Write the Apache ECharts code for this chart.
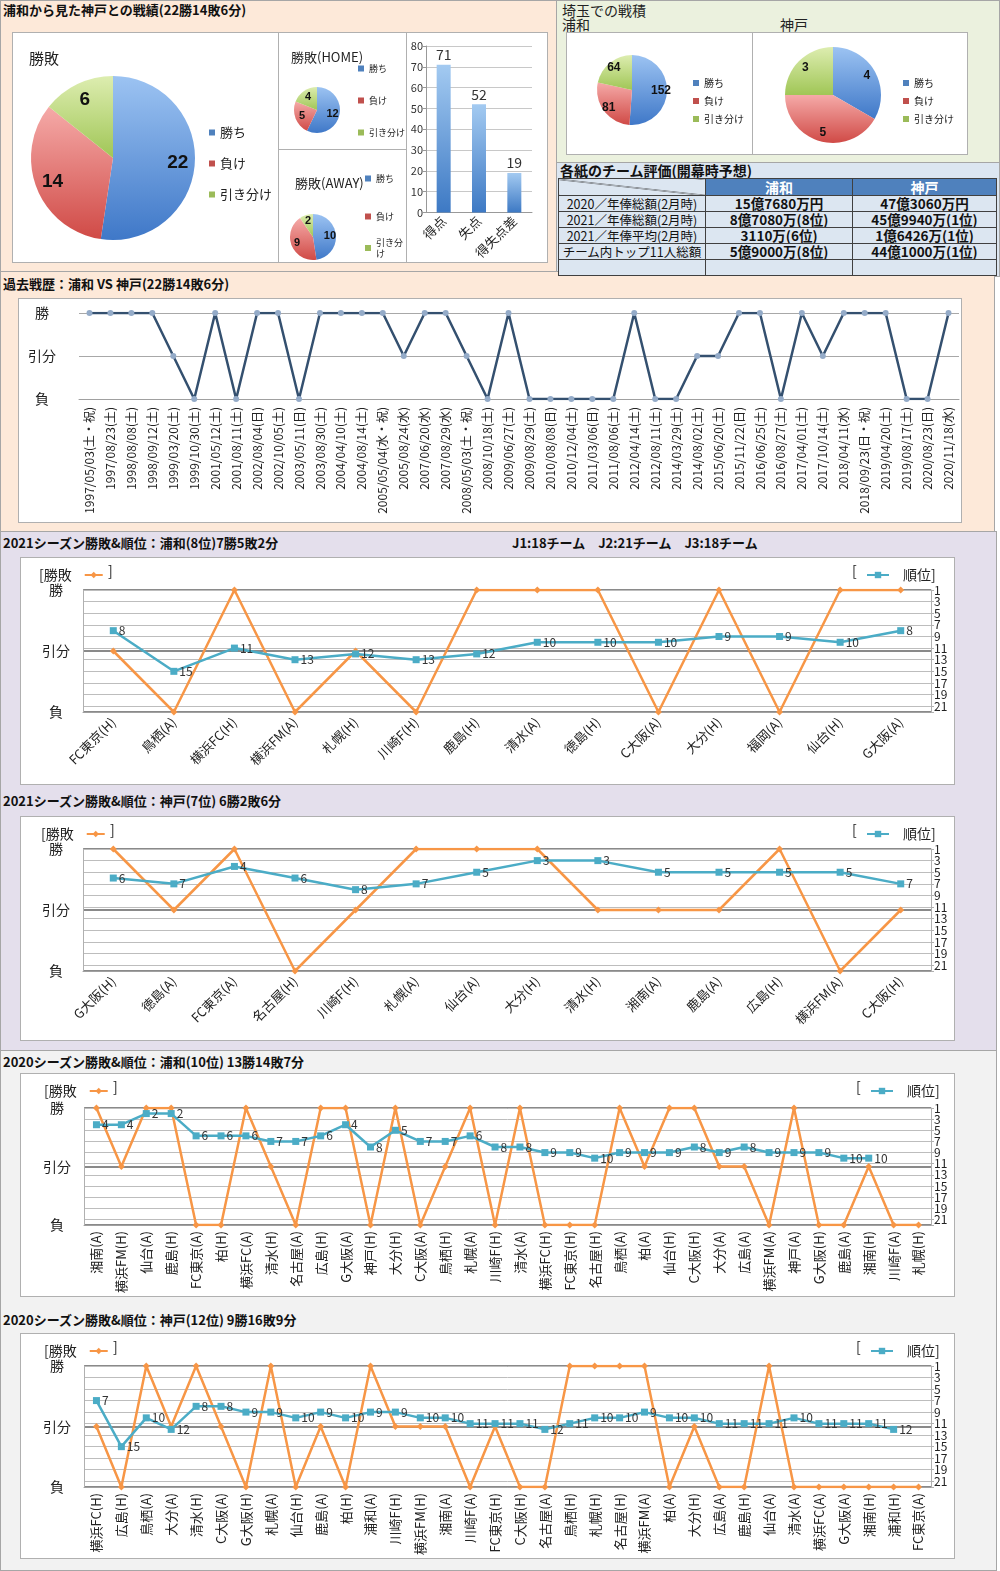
<!DOCTYPE html>
<html><head><meta charset="utf-8">
<script src="https://cdn.jsdelivr.net/npm/echarts@6/dist/echarts.min.js"></script>
<style>
body{margin:0;background:#fff;font-family:"Noto Sans CJK JP","Noto Sans",sans-serif;}
#page{position:relative;width:1000px;height:1571px;overflow:hidden;background:#fff;}
.sec{position:absolute;box-sizing:border-box;border:1px solid #a6a6a6;}
.t{position:absolute;font-size:13px;font-weight:bold;color:#111;white-space:nowrap;line-height:16px;}
.n{position:absolute;font-size:14px;color:#222;white-space:nowrap;line-height:16px;}
.box{position:absolute;box-sizing:border-box;border:1px solid #b0b0b0;background:#fff;}
#tbl{position:absolute;left:558px;top:178px;border-collapse:collapse;table-layout:fixed;}
#tbl td{border:1px solid #404040;padding:0;text-align:center;font-size:12.5px;line-height:15px;white-space:nowrap;overflow:hidden;background:#DCE6F1;color:#111;}
#tbl tr.h td{height:16px;background:#4F81BD;color:#fff;font-weight:bold;font-size:14px;}
#tbl tr.b td{height:15px;}
#tbl td.v{font-weight:bold;font-size:13.5px;}
</style></head>
<body><div id="page">
<div class="sec" style="left:0;top:0;width:557px;height:272px;background:#FDE9D9"></div>
<div class="sec" style="left:556px;top:0;width:444px;height:163px;background:#EBF1DE"></div>
<div class="sec" style="left:556px;top:162px;width:444px;height:115px;background:#DCE6F1"></div>
<div class="sec" style="left:0;top:271px;width:995px;height:261px;background:#FDE9D9"></div>
<div class="sec" style="left:0;top:531px;width:997px;height:520px;background:#E4DFEC"></div>
<div class="sec" style="left:0;top:1050px;width:997px;height:521px;background:#F2F2F2"></div>

<div class="t" style="left:3px;top:2px;">浦和から見た神戸との戦績(22勝14敗6分)</div>
<div class="n" style="left:562px;top:2px;">埼玉での戦積</div>
<div class="n" style="left:562px;top:16px;">浦和</div>
<div class="n" style="left:780px;top:16px;">神戸</div>
<div class="t" style="left:560px;top:162px;font-size:14px;">各紙のチーム評価(開幕時予想)</div>
<div class="t" style="left:3px;top:276px;">過去戦歴：浦和 VS 神戸(22勝14敗6分)</div>
<div class="t" style="left:3px;top:535px;">2021シーズン勝敗&amp;順位：浦和(8位)7勝5敗2分</div>
<div class="t" style="left:512px;top:535px;">J1:18チーム　J2:21チーム　J3:18チーム</div>
<div class="t" style="left:3px;top:793px;">2021シーズン勝敗&amp;順位：神戸(7位) 6勝2敗6分</div>
<div class="t" style="left:3px;top:1054px;">2020シーズン勝敗&amp;順位：浦和(10位) 13勝14敗7分</div>
<div class="t" style="left:3px;top:1312px;">2020シーズン勝敗&amp;順位：神戸(12位) 9勝16敗9分</div>

<div class="box" id="cMain" style="left:12px;top:32px;width:267px;height:231px;"></div>
<div class="box" id="cHome" style="left:278px;top:32px;width:129px;height:118px;"></div>
<div class="box" id="cAway" style="left:278px;top:149px;width:129px;height:114px;"></div>
<div class="box" id="cBar" style="left:406px;top:32px;width:142px;height:231px;"></div>
<div class="box" id="cSU" style="left:566px;top:32px;width:187px;height:123px;"></div>
<div class="box" id="cSK" style="left:752px;top:32px;width:216px;height:123px;"></div>
<table id="tbl"></table>
<div class="box" id="cHist" style="left:18px;top:298px;width:944px;height:225px;"></div>
<div class="box" id="cU21" style="left:20px;top:557px;width:935px;height:228px;"></div>
<div class="box" id="cK21" style="left:20px;top:816px;width:935px;height:225px;"></div>
<div class="box" id="cU20" style="left:20px;top:1073px;width:935px;height:224px;"></div>
<div class="box" id="cK20" style="left:20px;top:1333px;width:935px;height:226px;"></div>
</div>
<script>
// ===== data =====
const pieCats = ['勝ち','負け','引き分け'];
const totalWDL = [22,14,6];
const homeWDL = [12,5,4];
const awayWDL = [10,9,2];
const goalCats = ['得点','失点','得失点差'];
const goalVals = [71,52,19];
const saitamaUrawa = [152,81,64];
const saitamaKobe = [4,5,3];
const resultAxisLabels = ['負','引分','勝'];
const resultValue = {L:0, D:1, W:2};
const rankTickLabels = ['1','','3','','5','','7','','9','','11','','13','','15','','17','','19','','21',''];

const tableHead = ['浦和','神戸'];
const tableRowLabels = ['2020／年俸総額(2月時)','2021／年俸総額(2月時)','2021／年俸平均(2月時)','チーム内トップ11人総額',''];
const tableUrawa = ['15億7680万円','8億7080万(8位)','3110万(6位)','5億9000万(8位)',''];
const tableKobe = ['47億3060万円','45億9940万(1位)','1億6426万(1位)','44億1000万(1位)',''];

const histDates = ['1997/05/03(土・祝)','1997/08/23(土)','1998/08/08(土)','1998/09/12(土)','1999/03/20(土)','1999/10/30(土)','2001/05/12(土)','2001/08/11(土)','2002/08/04(日)','2002/10/05(土)','2003/05/11(日)','2003/08/30(土)','2004/04/10(土)','2004/08/14(土)','2005/05/04(水・祝)','2005/08/24(水)','2007/06/20(水)','2007/08/29(水)','2008/05/03(土・祝)','2008/10/18(土)','2009/06/27(土)','2009/08/29(土)','2010/08/08(日)','2010/12/04(土)','2011/03/06(日)','2011/08/06(土)','2012/04/14(土)','2012/08/11(土)','2014/03/29(土)','2014/08/02(土)','2015/06/20(土)','2015/11/22(日)','2016/06/25(土)','2016/08/27(土)','2017/04/01(土)','2017/10/14(土)','2018/04/11(水)','2018/09/23(日・祝)','2019/04/20(土)','2019/08/17(土)','2020/08/23(日)','2020/11/18(水)'];
const histResults = ['W','W','W','W','D','L','W','L','W','W','L','W','W','W','W','D','W','W','D','L','W','L','L','L','L','L','W','L','L','D','D','W','W','L','W','D','W','W','W','L','L','W'];

const u2021Opp = ['FC東京(H)','鳥栖(A)','横浜FC(H)','横浜FM(A)','札幌(H)','川崎F(H)','鹿島(H)','清水(A)','徳島(H)','C大阪(A)','大分(H)','福岡(A)','仙台(H)','G大阪(A)'];
const u2021Res = ['D','L','W','L','D','L','W','W','W','L','W','L','W','W'];
const u2021Rank = [8,15,11,13,12,13,12,10,10,10,9,9,10,8];

const k2021Opp = ['G大阪(H)','徳島(A)','FC東京(A)','名古屋(H)','川崎F(H)','札幌(A)','仙台(A)','大分(H)','清水(H)','湘南(A)','鹿島(A)','広島(H)','横浜FM(A)','C大阪(H)'];
const k2021Res = ['W','D','W','L','D','W','W','W','D','D','D','W','L','D'];
const k2021Rank = [6,7,4,6,8,7,5,3,3,5,5,5,5,7];

const u2020Opp = ['湘南(A)','横浜FM(H)','仙台(A)','鹿島(H)','FC東京(A)','柏(H)','横浜FC(A)','清水(H)','名古屋(A)','広島(H)','G大阪(A)','神戸(H)','大分(H)','C大阪(A)','鳥栖(H)','札幌(A)','川崎F(H)','清水(A)','横浜FC(H)','FC東京(H)','名古屋(H)','鳥栖(A)','柏(A)','仙台(H)','C大阪(H)','大分(A)','広島(A)','横浜FM(A)','神戸(A)','G大阪(H)','鹿島(A)','湘南(H)','川崎F(A)','札幌(H)'];
const u2020Res = ['W','D','W','W','L','L','W','D','L','W','W','L','W','L','D','W','L','W','L','L','L','W','D','W','W','D','D','L','W','L','L','D','L','L'];
const u2020Rank = [4,4,2,2,6,6,6,7,7,6,4,8,5,7,7,6,8,8,9,9,10,9,9,9,8,9,8,9,9,9,10,10,null,null];

const k2020Opp = ['横浜FC(H)','広島(H)','鳥栖(A)','大分(A)','清水(H)','C大阪(A)','G大阪(H)','札幌(A)','仙台(H)','鹿島(A)','柏(H)','浦和(A)','川崎F(H)','横浜FM(H)','湘南(A)','川崎F(A)','FC東京(H)','C大阪(H)','名古屋(A)','鳥栖(H)','札幌(H)','名古屋(H)','横浜FM(A)','柏(A)','大分(H)','広島(A)','鹿島(H)','仙台(A)','清水(A)','横浜FC(A)','G大阪(A)','湘南(H)','浦和(H)','FC東京(A)'];
const k2020Res = ['D','L','W','D','W','D','L','W','L','D','L','W','D','D','D','L','D','L','L','W','W','W','W','L','D','L','L','W','L','L','L','L','L','L'];
const k2020Rank = [7,15,10,12,8,8,9,9,10,9,10,9,9,10,10,11,11,11,12,11,10,10,9,10,10,11,11,11,10,11,11,11,12,null];

// ===== styles =====
const F = '"Noto Sans CJK JP","Noto Sans",sans-serif';
const pieTop = ['#9CC3F2','#F5AAA8','#DDEDB0'];
const pieBot = ['#3F78C8','#D04A46','#A0C656'];
const pieSolid = ['#4F81BD','#C0504D','#9BBB59'];
function grad(i){return new echarts.graphic.LinearGradient(0,0,0,1,[{offset:0,color:pieTop[i]},{offset:1,color:pieBot[i]}]);}

function pieChart(id, vals, o){
  const ch = echarts.init(document.getElementById(id));
  const lgBase = {orient:'vertical', left:o.lx, padding:0, itemWidth:6, itemHeight:6, itemGap:o.gap, icon:'rect',
      textStyle:{fontSize:o.lfs, color:'#222', fontFamily:F, lineHeight:o.lfs+2}};
  const lgItems = pieCats.map((n,i)=>({name:n, itemStyle:{color:pieSolid[i]}}));
  let legend;
  if(o.ly3 !== undefined){
    legend = [
      Object.assign({}, lgBase, {top:o.ly, data:lgItems.slice(0,2)}),
      Object.assign({}, lgBase, {top:o.ly3, data:lgItems.slice(2), formatter:n=>'引き分\nけ'})
    ];
  } else {
    legend = Object.assign({}, lgBase, {top:o.ly, data:lgItems});
  }
  const opt = {
    animation:false,
    textStyle:{fontFamily:F},
    legend:legend,
    series:[
      {type:'pie', center:o.center, radius:o.r, startAngle:90, clockwise:true, silent:true,
        data:vals.map((v,i)=>({name:pieCats[i], value:v, itemStyle:{color:grad(i)}})),
        label:{show:false}, labelLine:{show:false}},
      {type:'pie', center:o.center, radius:o.lr*2, startAngle:90, clockwise:true, silent:true, legendHoverLink:false,
        data:vals.map((v,i)=>({name:pieCats[i], value:v})),
        itemStyle:{color:'rgba(0,0,0,0)'},
        label:{show:true, position:'inside', formatter:'{c}', fontSize:o.fs, fontWeight:'bold', color:'#111', fontFamily:'"Liberation Sans",sans-serif'},
        labelLine:{show:false}}
    ]
  };
  if(o.title) opt.title = {text:o.title, left:o.tx, top:o.ty, textStyle:{fontSize:o.tfs, fontWeight:'normal', color:'#222', fontFamily:F}};
  ch.setOption(opt);
}

pieChart('cMain', totalWDL, {center:[100,125], r:82, lr:62, fs:19, title:'勝敗', tx:11, ty:13, tfs:15, lx:196, ly:92, gap:16, lfs:13});
pieChart('cHome', homeWDL, {center:[38,77], r:23, lr:13, fs:11, title:'勝敗(HOME)', tx:7, ty:13, tfs:13, lx:79, ly:30, gap:21, lfs:9});
pieChart('cAway', awayWDL, {center:[34,87], r:23, lr:14, fs:11, title:'勝敗(AWAY)', tx:11, ty:22, tfs:13, lx:86, ly:23, ly3:87, gap:27, lfs:9});
pieChart('cSU', saitamaUrawa, {center:[65,57], r:35, lr:26, fs:12, lx:126, ly:44, gap:6, lfs:10});
pieChart('cSK', saitamaKobe, {center:[80,62], r:48, lr:36, fs:12, lx:150, ly:44, gap:6, lfs:10});

// bar chart
(function(){
  const ch = echarts.init(document.getElementById('cBar'));
  ch.setOption({
    animation:false, textStyle:{fontFamily:F},
    grid:{left:19, top:13, width:106, height:176},
    xAxis:{type:'category', data:goalCats, axisLine:{lineStyle:{color:'#999'}}, axisTick:{length:4, lineStyle:{color:'#999'}},
      axisLabel:{rotate:45, fontSize:13, color:'#222', interval:0, margin:6}},
    yAxis:{type:'value', min:0, max:80, interval:10, axisLine:{show:true, lineStyle:{color:'#999'}}, axisTick:{show:true, length:3, lineStyle:{color:'#999'}},
      axisLabel:{fontSize:11, color:'#333', margin:3}, splitLine:{lineStyle:{color:'#c8c8c8'}}},
    series:[{type:'bar', data:goalVals, barWidth:14,
      itemStyle:{color:new echarts.graphic.LinearGradient(0,0,0,1,[{offset:0,color:'#A3CAF1'},{offset:1,color:'#3D79C4'}])},
      label:{show:true, position:'top', fontSize:14, color:'#333', distance:3}}]
  });
})();

// table
(function(){
  const t = document.getElementById('tbl');
  let h = '<colgroup><col style="width:147px"><col style="width:147px"><col style="width:144px"></colgroup>';
  h += '<tr class="h"><td style="background:#DCE6F1 linear-gradient(to top right, rgba(0,0,0,0) calc(50% - 0.7px), #333 50%, rgba(0,0,0,0) calc(50% + 0.7px));"></td><td>'+tableHead[0]+'</td><td>'+tableHead[1]+'</td></tr>';
  for(let i=0;i<tableRowLabels.length;i++){
    h += '<tr class="b"><td>'+tableRowLabels[i]+'</td><td class="v">'+tableUrawa[i]+'</td><td class="v">'+tableKobe[i]+'</td></tr>';
  }
  t.innerHTML = h;
})();

// history chart
(function(){
  const ch = echarts.init(document.getElementById('cHist'));
  ch.setOption({
    animation:false, textStyle:{fontFamily:F},
    grid:{left:60, top:14, width:880, height:86},
    xAxis:{type:'category', data:histDates, boundaryGap:true,
      axisLine:{lineStyle:{color:'#a0a0a0'}}, axisTick:{length:5, lineStyle:{color:'#a0a0a0'}},
      axisLabel:{rotate:90, fontSize:12, color:'#222', interval:0, margin:8}},
    yAxis:{type:'value', min:0, max:2, interval:1,
      axisLabel:{formatter:v=>resultAxisLabels[v], fontSize:14, color:'#222', align:'center', margin:37},
      axisLine:{show:false}, axisTick:{show:false}, splitLine:{lineStyle:{color:'#a8a8a8'}}},
    series:[{type:'line', data:histResults.map(r=>resultValue[r]), symbol:'circle', symbolSize:6,
      lineStyle:{color:'#34506F', width:2.5}, itemStyle:{color:'#94ABC8'}}]
  });
})();

// season charts
function seasonChart(id, cats, res, rank, g){
  const ch = echarts.init(document.getElementById(id));
  const lt = {fontSize:14, color:'#222', fontFamily:F};
  ch.setOption({
    animation:false, textStyle:{fontFamily:F},
    grid:{left:g.left, top:g.top, width:g.width, height:g.height},
    legend:[
      {data:['勝敗'], left:g.lx, top:5, align:'right', itemWidth:18, itemHeight:8, formatter:'[勝敗',
        textStyle:Object.assign({padding:[0,8,0,0]}, lt)},
      {data:['順位'], left:g.rx+9, top:5, align:'left', itemWidth:22, itemHeight:8, formatter:'順位]',
        textStyle:Object.assign({padding:[0,0,0,9]}, lt)}
    ],
    graphic:[
      {type:'text', left:g.lx+74, top:6, style:{text:']', font:'14px '+F, fill:'#222'}},
      {type:'text', left:g.rx, top:6, style:{text:'[', font:'14px '+F, fill:'#222'}}
    ],
    xAxis:{type:'category', data:cats, boundaryGap:true,
      axisLine:{lineStyle:{color:'#a0a0a0'}}, axisTick:{length:5, lineStyle:{color:'#a0a0a0'}},
      axisLabel:{rotate:g.rot, fontSize:13, color:'#222', interval:0, margin:g.rot===90?6:8}},
    yAxis:[
      {type:'value', min:0, max:2, interval:1,
        axisLabel:{formatter:v=>resultAxisLabels[v], fontSize:14, color:'#222', align:'center', margin:27, showMinLabel:true, showMaxLabel:true},
        axisLine:{show:true, lineStyle:{color:'#b0b0b0'}}, axisTick:{show:false},
        splitLine:{lineStyle:{color:'#8a8a8a', width:2}}},
      {type:'value', min:1, max:22, interval:2, inverse:true, position:'right', offset:0,
        axisLabel:{show:false},
        axisLine:{show:true, lineStyle:{color:'#b0b0b0'}}, axisTick:{show:false},
        splitLine:{show:true, lineStyle:{color:'#bdbdbd', width:1}}},
      {type:'category', data:rankTickLabels, boundaryGap:false, inverse:true, position:'right', offset:0,
        axisLabel:{interval:0, fontSize:12, color:'#222', margin:3},
        axisLine:{show:false}, axisTick:{show:true, interval:1, length:3, lineStyle:{color:'#b0b0b0'}},
        splitLine:{show:false}}
    ],
    series:[
      {name:'勝敗', type:'line', yAxisIndex:0, data:res.map(r=>resultValue[r]), symbol:'diamond', symbolSize:7,
        lineStyle:{color:'#F79646', width:2.5}, itemStyle:{color:'#F79646'}, z:2},
      {name:'順位', type:'line', yAxisIndex:1, data:rank, symbol:'rect', symbolSize:7, connectNulls:false,
        lineStyle:{color:'#4BACC6', width:2.5}, itemStyle:{color:'#4BACC6'}, z:3,
        label:{show:true, position:'right', distance:2, fontSize:12, color:'#333'}}
    ]
  });
}
seasonChart('cU21', u2021Opp, u2021Res, u2021Rank, {left:62, top:32, width:848, height:122, rot:45, lx:13, rx:831});
seasonChart('cK21', k2021Opp, k2021Res, k2021Rank, {left:62, top:32, width:848, height:122, rot:45, lx:15, rx:831});
seasonChart('cU20', u2020Opp, u2020Res, u2020Rank, {left:63, top:34, width:847, height:121, rot:90, lx:18, rx:835});
seasonChart('cK20', k2020Opp, k2020Res, k2020Rank, {left:63, top:32, width:847, height:122, rot:90, lx:18, rx:835});
</script>
</body></html>
